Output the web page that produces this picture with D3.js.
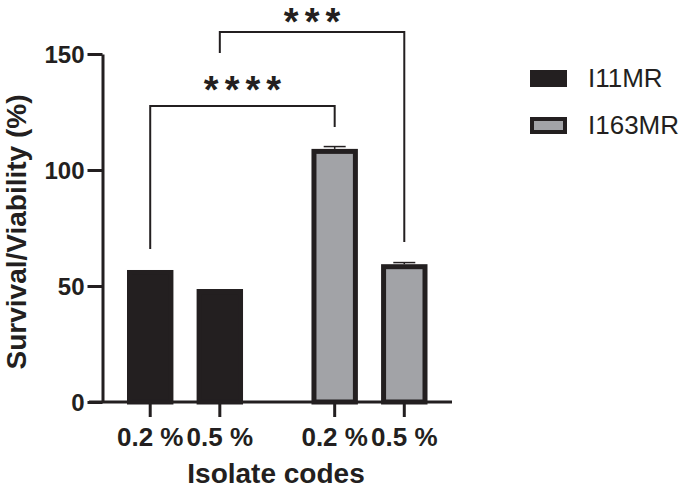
<!DOCTYPE html>
<html>
<head>
<meta charset="utf-8">
<script src="https://cdn.jsdelivr.net/npm/d3@7"></script>
<style>
  body { margin: 0; background: #fff; }
  svg { font-family: "Liberation Sans", Arial, sans-serif; }
</style>
</head>
<body>
<div id="chart"></div>
<script>
// data
var groups = ["I11MR", "I163MR"];
var concentrations = ["0.2 %", "0.5 %"];
var survivalI11MR = [56.9, 48.7];
var survivalI163MR = [109.1, 59.4];
var errorI11MR = [0, 0];
var errorI163MR = [1.0, 0.7];
var yTicks = [0, 50, 100, 150];
var groupColors = ["#231f20", "#a2a3a7"];
// significance brackets: [from group, from conc, to group, to conc, label, bracket level, left leg end, right leg end]
var comparisons = [
  ["I11MR", "0.2 %", "I163MR", "0.2 %", "****", 127.6, 66, 118.5],
  ["I11MR", "0.5 %", "I163MR", "0.5 %", "***", 159.5, 150.4, 69]
];

var dark = "#231f20";
var W = 685, H = 490;

var svg = d3.select("#chart").append("svg")
  .attr("width", W)
  .attr("height", H);

var y = d3.scaleLinear()
  .domain([0, 150])
  .range([402, 54]);

var xGroup = d3.scaleBand()
  .domain(groups)
  .range([102.5, 452])
  .paddingInner(0.371)
  .paddingOuter(0.1328);

var xConc = d3.scaleBand()
  .domain(concentrations)
  .range([0, xGroup.bandwidth()])
  .paddingInner(0.333)
  .paddingOuter(0);

function cx(g, c) { return xGroup(g) + xConc(c) + xConc.bandwidth() / 2; }

var rows = [];
groups.forEach(function(g, gi) {
  var vals = gi == 0 ? survivalI11MR : survivalI163MR;
  var errs = gi == 0 ? errorI11MR : errorI163MR;
  concentrations.forEach(function(c, ci) {
    rows.push({group: g, conc: c, value: vals[ci], err: errs[ci], color: groupColors[gi]});
  });
});

// bars, border drawn inside the bar outline
var sw = 5;
svg.append("g").selectAll("rect")
  .data(rows)
  .enter().append("rect")
  .attr("x", function(d) { return xGroup(d.group) + xConc(d.conc) + sw / 2; })
  .attr("y", function(d) { return y(d.value) + sw / 2; })
  .attr("width", xConc.bandwidth() - sw)
  .attr("height", function(d) { return y(0) - y(d.value) - sw / 2; })
  .attr("fill", function(d) { return d.color; })
  .attr("stroke", dark)
  .attr("stroke-width", sw);

// error bars (upper only)
var eb = svg.append("g").attr("stroke", dark).attr("stroke-width", 1.5);
rows.filter(function(d) { return d.err > 0; }).forEach(function(d) {
  var x0 = cx(d.group, d.conc);
  eb.append("line")
    .attr("x1", x0).attr("x2", x0)
    .attr("y1", y(d.value)).attr("y2", y(d.value + d.err));
  eb.append("line")
    .attr("x1", x0 - 11).attr("x2", x0 + 11)
    .attr("y1", y(d.value + d.err)).attr("y2", y(d.value + d.err));
});

// y axis
var yAxis = svg.append("g")
  .attr("transform", "translate(102.5,0)")
  .call(d3.axisLeft(y).tickValues(yTicks).tickSize(15).tickSizeOuter(0).tickPadding(3));
yAxis.selectAll("path, line").attr("stroke", dark).attr("stroke-width", 3);
yAxis.selectAll("text")
  .attr("fill", dark)
  .style("font-size", "24px")
  .style("font-weight", "bold")
  .attr("dy", "0.36em");

// x axis
var xAxisG = svg.append("g");
xAxisG.append("line")
  .attr("x1", 89).attr("x2", 452)
  .attr("y1", y(0)).attr("y2", y(0))
  .attr("stroke", dark).attr("stroke-width", 3);
xAxisG.selectAll(".tick")
  .data(rows)
  .enter().append("line")
  .attr("x1", function(d) { return cx(d.group, d.conc); })
  .attr("x2", function(d) { return cx(d.group, d.conc); })
  .attr("y1", y(0)).attr("y2", y(0) + 15)
  .attr("stroke", dark).attr("stroke-width", 3);
xAxisG.selectAll(".lbl")
  .data(rows)
  .enter().append("text")
  .attr("x", function(d) { return cx(d.group, d.conc); })
  .attr("y", 446)
  .attr("text-anchor", "middle")
  .attr("fill", dark)
  .style("font-size", "26px")
  .style("font-weight", "bold")
  .text(function(d) { return d.conc; });

// axis titles
svg.append("text")
  .attr("x", 276).attr("y", 483)
  .attr("text-anchor", "middle")
  .attr("fill", dark)
  .style("font-size", "28px")
  .style("font-weight", "bold")
  .text("Isolate codes");

svg.append("text")
  .attr("transform", "translate(26,232) rotate(-90)")
  .attr("text-anchor", "middle")
  .attr("fill", dark)
  .style("font-size", "28px")
  .style("font-weight", "bold")
  .text("Survival/Viability (%)");

// significance brackets
var br = svg.append("g");
comparisons.forEach(function(c) {
  var xa = cx(c[0], c[1]), xb = cx(c[2], c[3]);
  br.append("path")
    .attr("d", d3.line()([[xa, y(c[6])], [xa, y(c[5])], [xb, y(c[5])], [xb, y(c[7])]]))
    .attr("fill", "none")
    .attr("stroke", dark)
    .attr("stroke-width", 2);
  br.append("text")
    .attr("x", (xa + xb) / 2 + 3)
    .attr("y", Math.max(y(c[5]) - 3, 35))
    .attr("text-anchor", "middle")
    .attr("fill", dark)
    .style("font-size", "38px")
    .style("font-weight", "bold")
    .style("letter-spacing", "6px")
    .text(c[4]);
});

// legend
var legend = svg.append("g");
groups.forEach(function(g, i) {
  var ly = 70 + i * 47;
  legend.append("rect")
    .attr("x", 530 + (i ? 2 : 0)).attr("y", ly + (i ? 2 : 0))
    .attr("width", 37 - (i ? 4 : 0)).attr("height", 17 - (i ? 4 : 0))
    .attr("fill", groupColors[i])
    .attr("stroke", dark)
    .attr("stroke-width", i ? 4 : 0);
  legend.append("text")
    .attr("x", 588).attr("y", ly + 17)
    .attr("fill", dark)
    .style("font-size", "26px")
    .text(g);
});
</script>
</body>
</html>
